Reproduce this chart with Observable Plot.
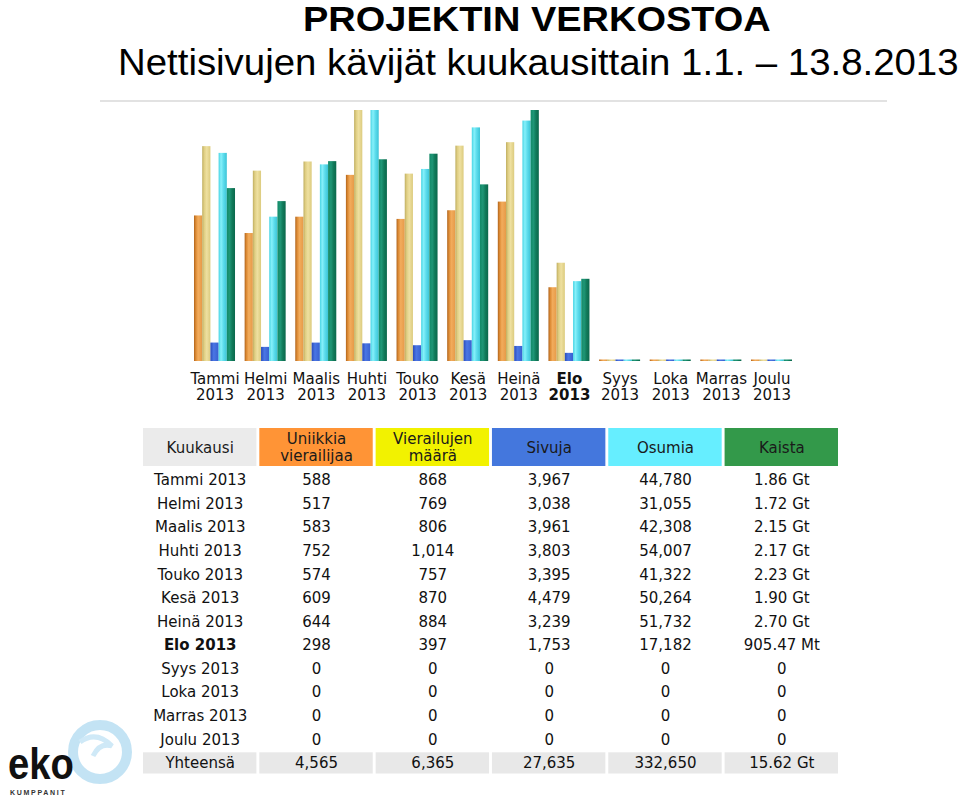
<!DOCTYPE html>
<html>
<head>
<meta charset="utf-8">
<script src="https://cdn.jsdelivr.net/npm/d3@7"></script>
<script src="https://cdn.jsdelivr.net/npm/@observablehq/plot@0.6"></script>
<style>
  body { margin: 0; background: #fff; }
  #page { position: relative; width: 960px; height: 796px; overflow: hidden; background: #fff; }
  .abs { position: absolute; }
  .ttl { white-space: nowrap; line-height: 1; font-family: "Liberation Sans", Arial, sans-serif; color: #000; transform-origin: 0 0; }
  #rule { left: 100px; top: 100px; width: 787px; height: 2px; background: #e2e2e2; }
</style>
</head>
<body>
<div id="page">
  <svg width="0" height="0" style="position:absolute">
    <defs>
      <linearGradient id="g-uniikit" x1="0" x2="1" y1="0" y2="0">
        <stop offset="0" stop-color="#b0641c"/><stop offset="0.22" stop-color="#dc8a34"/>
        <stop offset="0.5" stop-color="#f2ac5c"/><stop offset="1" stop-color="#e69a48"/>
      </linearGradient>
      <linearGradient id="g-vierailut" x1="0" x2="1" y1="0" y2="0">
        <stop offset="0" stop-color="#bfae60"/><stop offset="0.25" stop-color="#e0cf84"/>
        <stop offset="0.55" stop-color="#eee0a0"/><stop offset="1" stop-color="#dccb7e"/>
      </linearGradient>
      <linearGradient id="g-sivut" x1="0" x2="1" y1="0" y2="0">
        <stop offset="0" stop-color="#2a4cbc"/><stop offset="0.4" stop-color="#4a76e4"/>
        <stop offset="1" stop-color="#3860d0"/>
      </linearGradient>
      <linearGradient id="g-osumat" x1="0" x2="1" y1="0" y2="0">
        <stop offset="0" stop-color="#48d4e4"/><stop offset="0.3" stop-color="#86f0fa"/>
        <stop offset="0.6" stop-color="#5cdcec"/><stop offset="1" stop-color="#3cc4d6"/>
      </linearGradient>
      <linearGradient id="g-kaista" x1="0" x2="1" y1="0" y2="0">
        <stop offset="0" stop-color="#138a68"/><stop offset="0.35" stop-color="#1f9676"/>
        <stop offset="0.65" stop-color="#117a5a"/><stop offset="1" stop-color="#0b684c"/>
      </linearGradient>
    </defs>
  </svg>

  <div class="abs ttl" style="left:303px;top:1px;font-size:35px;font-weight:bold;transform:scaleX(1.085)">PROJEKTIN VERKOSTOA</div>
  <div class="abs ttl" style="left:118px;top:45px;font-size:36px;transform:scaleX(1.066)">Nettisivujen kävijät kuukausittain 1.1. – 13.8.2013</div>

  <div id="chart" class="abs" style="left:0;top:100px"></div>
  <div id="rule" class="abs"></div>
  <div id="thead" class="abs" style="left:0;top:428px"></div>
  <div id="tbody" class="abs" style="left:0;top:466px"></div>

  <svg class="abs" style="left:0;top:712px" width="140" height="84">
    <circle cx="100" cy="40" r="27" fill="none" stroke="#b4dcf1" stroke-width="10" opacity="0.8"/>
    <path d="M80 30 Q96 18 112 34 Q100 30 93 44" fill="none" stroke="#cfe9f7" stroke-width="5"/>
    <text x="8" y="67" font-family="Liberation Sans, Arial" font-weight="bold" font-size="45" fill="#111" transform="translate(8 0) scale(0.85 1) translate(-8 0)">eko</text>
    <text x="10" y="83" font-family="Liberation Sans, Arial" font-weight="bold" font-size="7" fill="#333" letter-spacing="1.7">KUMPPANIT</text>
  </svg>
</div>

<script>
// ---------- DATA ----------
const months = ["Tammi", "Helmi", "Maalis", "Huhti", "Touko", "Kesä", "Heinä", "Elo", "Syys", "Loka", "Marras", "Joulu"];
const year = "2013";
const currentMonth = "Elo";
const uniikit   = [588, 517, 583, 752, 574, 609, 644, 298, 0, 0, 0, 0];
const vierailut = [868, 769, 806, 1014, 757, 870, 884, 397, 0, 0, 0, 0];
const sivut     = [3967, 3038, 3961, 3803, 3395, 4479, 3239, 1753, 0, 0, 0, 0];
const osumat    = [44780, 31055, 42308, 54007, 41322, 50264, 51732, 17182, 0, 0, 0, 0];
const kaistaGt  = [1.86, 1.72, 2.15, 2.17, 2.23, 1.90, 2.70, 0.88425, 0, 0, 0, 0];
const yhteensa  = [4565, 6365, 27635, 332650, 15.62];
const seriesKeys = ["uniikit", "vierailut", "sivut", "osumat", "kaista"];
const columnKeys = ["kk", "uniikit", "vierailut", "sivut", "osumat", "kaista"];
const headerLabels = ["Kuukausi", "Uniikkia\nvierailijaa", "Vierailujen\nmäärä", "Sivuja", "Osumia", "Kaista"];
const totalLabel = "Yhteensä";

// ---------- STYLES ----------
const headerColors = ["#ebebeb", "#ff9436", "#f2f200", "#4477dd", "#66eeff", "#33994a"];
const totalRowColor = "#e8e8e8";
const textColor = "#111";
const tableFont = "'DejaVu Sans', Verdana, sans-serif";

// ---------- BAR CHART ----------
const seriesValues = {uniikit, vierailut, sivut, osumat, kaista: kaistaGt};
// AWStats-style shared maxima: visitors+visits, pages+hits, bandwidth
const seriesMax = {
  uniikit: d3.max(vierailut), vierailut: d3.max(vierailut),
  sivut: d3.max(osumat), osumat: d3.max(osumat),
  kaista: d3.max(kaistaGt)
};
const bars = months.flatMap((m, i) => seriesKeys.map(k => ({
  month: m, series: k, value: seriesValues[k][i],
  norm: Math.max(seriesValues[k][i] / seriesMax[k], 0.006)
})));

const chart = Plot.plot({
  width: 960, height: 311,
  marginTop: 10, marginBottom: 50, marginLeft: 194, marginRight: 168,
  fx: {domain: months, paddingInner: 0.19, paddingOuter: 0, round: false, axis: null, label: null},
  x: {domain: seriesKeys, padding: 0, round: false, axis: null},
  y: {domain: [0, 1], axis: null},
  color: {type: "identity"},
  style: {fontFamily: tableFont, fontSize: "15px", background: "transparent", color: textColor},
  marks: [
    Plot.barY(bars, {fx: "month", x: "series", y: "norm", fill: d => `url(#g-${d.series})`}),
    Plot.text(months.filter(m => m !== currentMonth), {
      fx: d => d, text: d => `${d}\n${year}`, frameAnchor: "bottom", lineAnchor: "top",
      dy: 10, lineHeight: 1.13, fill: textColor, fontSize: 15
    }),
    Plot.text(months.filter(m => m === currentMonth), {
      fx: d => d, text: d => `${d}\n${year}`, frameAnchor: "bottom", lineAnchor: "top",
      dy: 10, lineHeight: 1.13, fill: textColor, fontSize: 15, fontWeight: "bold"
    })
  ]
});
document.getElementById("chart").append(chart);

// ---------- TABLE ----------
const fmtInt = d3.format(",");
const fmtKaista = v => v === 0 ? "0" : v >= 1 ? v.toFixed(2) + " Gt" : (v * 1024).toFixed(2) + " Mt";
const rowLabels = [...months.map(m => `${m} ${year}`), totalLabel];

const headerCells = columnKeys.map((c, j) => ({col: c, label: headerLabels[j], color: headerColors[j]}));
const thead = Plot.plot({
  width: 960, height: 38,
  marginTop: 0, marginBottom: 0, marginLeft: 143, marginRight: 122,
  x: {domain: columnKeys, paddingInner: 0.025, paddingOuter: 0, round: false, axis: null},
  y: {domain: ["h"], padding: 0, round: false, axis: null},
  color: {type: "identity"},
  style: {fontFamily: tableFont, fontSize: "15px", background: "transparent"},
  marks: [
    Plot.cell(headerCells, {x: "col", y: () => "h", fill: "color"}),
    Plot.text(headerCells, {x: "col", y: () => "h", text: "label", fill: "#1a1a1a", fontSize: 15, lineHeight: 1.12})
  ]
});
document.getElementById("thead").append(thead);

const tableRecords = [];
rowLabels.forEach((r, i) => {
  const isTotal = i === months.length;
  const vals = isTotal
    ? [fmtInt(yhteensa[0]), fmtInt(yhteensa[1]), fmtInt(yhteensa[2]), fmtInt(yhteensa[3]), yhteensa[4].toFixed(2) + " Gt"]
    : [fmtInt(uniikit[i]), fmtInt(vierailut[i]), fmtInt(sivut[i]), fmtInt(osumat[i]), fmtKaista(kaistaGt[i])];
  const bold = !isTotal && months[i] === currentMonth;
  tableRecords.push({row: r, col: "kk", text: r, bold, total: isTotal});
  seriesKeys.forEach((k, j) => tableRecords.push({row: r, col: k, text: vals[j], bold: false, total: isTotal}));
});

const tbody = Plot.plot({
  width: 960, height: 311,
  marginTop: 2.2, marginBottom: 2.3, marginLeft: 143, marginRight: 122,
  x: {domain: columnKeys, paddingInner: 0.025, paddingOuter: 0, round: false, axis: null},
  y: {domain: rowLabels, paddingInner: 0.1, paddingOuter: 0.05, round: false, axis: null},
  style: {fontFamily: tableFont, fontSize: "15px", background: "transparent"},
  marks: [
    Plot.cell(tableRecords.filter(d => d.total), {x: "col", y: "row", fill: totalRowColor}),
    Plot.text(tableRecords.filter(d => !d.bold), {x: "col", y: "row", text: "text", fill: textColor, fontSize: 15}),
    Plot.text(tableRecords.filter(d => d.bold), {x: "col", y: "row", text: "text", fill: textColor, fontSize: 15, fontWeight: "bold"})
  ]
});
document.getElementById("tbody").append(tbody);
</script>
</body>
</html>
